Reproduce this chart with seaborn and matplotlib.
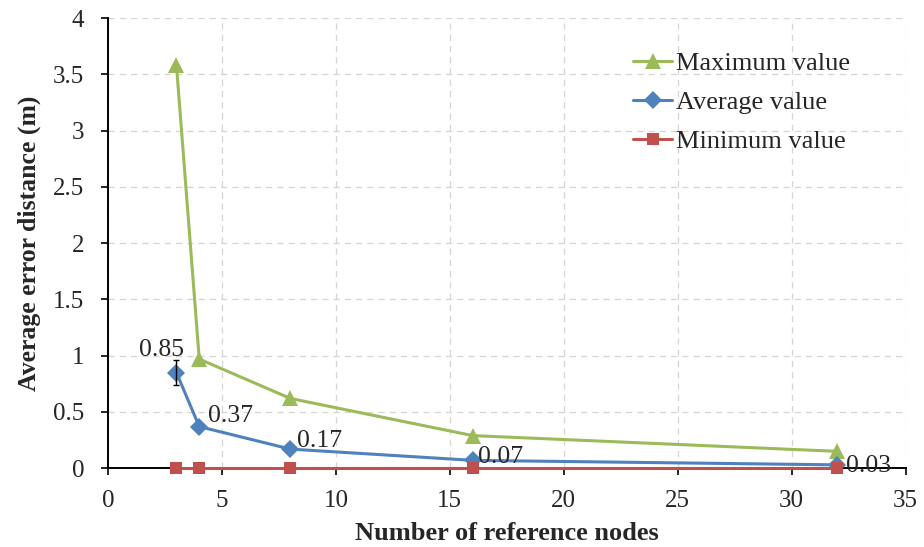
import matplotlib
matplotlib.use("Agg")
import matplotlib.pyplot as plt
import seaborn as sns
import pandas as pd

# Number of reference nodes and the localisation error (m)
nodes = [3, 4, 8, 16, 32]
max_values = [3.58, 0.97, 0.62, 0.29, 0.15]
avg_values = [0.85, 0.37, 0.17, 0.07, 0.03]
min_values = [0.0, 0.0, 0.0, 0.0, 0.0]
avg_error = [0.11, 0, 0, 0, 0]
series_names = ["Maximum value", "Average value", "Minimum value"]
x_ticks = [0, 5, 10, 15, 20, 25, 30, 35]
y_ticks = [0, 0.5, 1, 1.5, 2, 2.5, 3, 3.5, 4]

sns.set_style("white")
plt.rcParams["font.family"] = ["Liberation Serif", "DejaVu Serif"]

df = pd.DataFrame({
    "nodes": nodes * 3,
    "value": max_values + avg_values + min_values,
    "series": [s for s in series_names for _ in nodes],
})

palette = {"Maximum value": "#9BBB59", "Average value": "#4F81BD",
           "Minimum value": "#C0504D"}
markers = {"Maximum value": "^", "Average value": "D", "Minimum value": "s"}
marker_sizes = {"^": 11, "D": 9, "s": 8.5}

fig = plt.figure(figsize=(9.24, 5.47), dpi=100)
ax = fig.add_axes([0.117, 0.144, 0.863, 0.823])

sns.lineplot(data=df, x="nodes", y="value", hue="series", style="series",
             palette=palette, markers=markers, dashes=False, linewidth=2.2,
             markersize=9, markeredgewidth=0, ax=ax)

for line in ax.lines:
    mk = line.get_marker()
    if mk in marker_sizes:
        line.set_markersize(marker_sizes[mk])
    line.set_clip_on(False)
    line.set_zorder(5)

ax.errorbar(nodes[:1], avg_values[:1], yerr=avg_error[:1], fmt="none",
            ecolor="black", elinewidth=1, capsize=2.5, zorder=6)

# value labels on the average series (offsets in points)
offsets = [(-27, 12), (6, 3), (5, 1.5), (4, -2), (6.5, -5)]
for x, y, (dx, dy) in zip(nodes, avg_values, offsets):
    ax.annotate(f"{y:.2f}", (x, y), xytext=(dx, dy), textcoords="offset points",
                fontsize=18.5, ha="left", va="baseline", zorder=7)

ax.set_xlim(0, 35)
ax.set_ylim(0, 4)
ax.set_xticks(x_ticks)
ax.set_yticks(y_ticks)
ax.set_xticklabels([str(t) for t in x_ticks])
ax.set_yticklabels([f"{t:g}" for t in y_ticks])
ax.tick_params(axis="both", labelsize=18, direction="out", length=5,
               width=1.2, color="black", left=True, bottom=True)
ax.tick_params(axis="y", pad=12)
ax.tick_params(axis="x", pad=11)
ax.grid(True, color="#d5d5d5", linestyle=(0, (5, 4)), linewidth=0.9)
ax.set_axisbelow(True)
for side in ["top", "right"]:
    ax.spines[side].set_visible(False)
for side in ["left", "bottom"]:
    ax.spines[side].set_color("black")
    ax.spines[side].set_linewidth(1.4)
    ax.spines[side].set_zorder(4)

ax.set_xlabel("Number of reference nodes", fontsize=19, fontweight="bold",
              labelpad=7)
ax.set_ylabel("Average error distance (m)", fontsize=18.5, fontweight="bold",
              labelpad=9)

leg = ax.legend(title=None, loc="upper left", bbox_to_anchor=(0.658, 0.925),
                frameon=False, fontsize=19, handlelength=1.5,
                handletextpad=0.15, labelspacing=0.58, borderpad=0,
                borderaxespad=0)
for h in leg.legend_handles:
    mk = h.get_marker()
    if mk in marker_sizes:
        h.set_markersize(marker_sizes[mk])

fig.savefig("out.png", dpi=100)
